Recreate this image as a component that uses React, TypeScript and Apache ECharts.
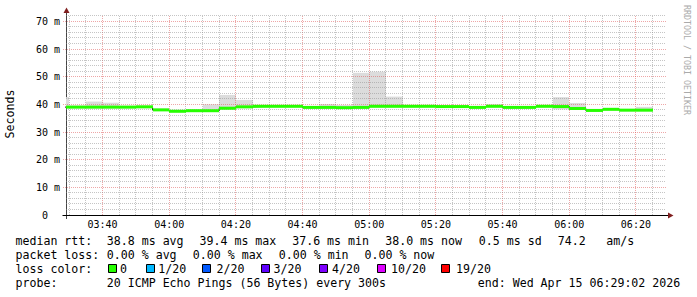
import React, { useEffect, useRef } from 'react';
import * as echarts from 'echarts';

// ---- data ----
const X_START = '03:29:02';
const X_END = '06:29:02';
const SLOT_MINUTES = 5;
const SLOT_START = ['03:25','03:30','03:35','03:40','03:45','03:50','03:55','04:00','04:05','04:10','04:15','04:20','04:25','04:30','04:35','04:40','04:45','04:50','04:55','05:00','05:05','05:10','05:15','05:20','05:25','05:30','05:35','05:40','05:45','05:50','05:55','06:00','06:05','06:10','06:15','06:20'];
const MEDIAN_MS = [39.0,39.0,39.0,39.0,39.0,39.1,38.0,37.5,37.7,37.7,38.6,39.1,39.3,39.3,39.3,38.9,38.9,38.8,38.9,39.3,39.3,39.3,39.3,39.2,39.2,38.9,39.3,38.9,38.9,39.3,39.2,38.5,37.8,38.2,37.9,37.9];
const SMOKE_MAX_MS = [42.6,39.6,41.0,40.6,39.5,39.6,38.5,38.0,38.2,40.0,43.4,41.6,39.7,39.7,39.7,39.4,40.1,39.8,51.4,51.8,42.8,39.7,39.7,39.6,39.6,39.4,40.0,39.4,39.4,39.7,42.6,40.5,38.3,38.7,38.3,39.1];
const SMOKE_MIN_MS = [38.9,38.6,38.5,38.5,38.6,38.6,37.6,37.1,37.3,37.3,38.1,38.6,38.9,38.9,38.9,38.5,38.5,38.3,38.5,38.9,38.9,38.9,38.9,38.8,38.8,38.5,38.9,38.5,38.5,38.9,38.2,38.0,37.3,37.8,37.5,37.5];

const X_LABELS = ['03:40','04:00','04:20','04:40','05:00','05:20','05:40','06:00','06:20'];
const Y_LABELS = [0, 10, 20, 30, 40, 50, 60, 70];
const Y_MAX = 72.3;
const Y_MINOR_STEP = 2;
const X_MINOR_STEP = 5;

const ROW_LABELS = ['median rtt:', 'packet loss:', 'loss color:', 'probe:'];
const RTT_STATS = ['38.8 ms avg', '39.4 ms max', '37.6 ms min', '38.0 ms now', '0.5 ms sd', '74.2', 'am/s'];
const LOSS_STATS = ['0.00 % avg', '0.00 % max', '0.00 % min', '0.00 % now'];
const LOSS_LABELS = ['0', '1/20', '2/20', '3/20', '4/20', '10/20', '19/20'];
const LOSS_COLORS = ['#26ff00', '#00b8ff', '#0059ff', '#5e00ff', '#7e00ff', '#dd00ff', '#ff0000'];
const PROBE_TEXT = '20 ICMP Echo Pings (56 Bytes) every 300s';
const END_TEXT = 'end: Wed Apr 15 06:29:02 2026';
const Y_TITLE = 'Seconds';
const WATERMARK = 'RRDTOOL / TOBI OETIKER';

// ---- layout ----
const W = 697, H = 297;
const G_LEFT = 66, G_TOP = 15, G_RIGHT = 31, G_BOTTOM = 82;
const MONO = "'DejaVu Sans Mono', monospace";
const LEG_FS = 11.6;
const ROW_Y = [241, 255, 269, 283];
const RTT_X = [106.8, 199.5, 292.2, 385.2, 478.8, 557.8, 606.2];
const LOSS_X = [106.8, 192.8, 278.8, 364.5];
const BOX_X = [108.5, 146.5, 202.5, 261.5, 319.5, 377.5, 441.5];
const BOX_TEXT_X = [120, 158.3, 216.6, 273.6, 332, 391, 456];
const PROBE_X = 106.8;
const END_X = 477.8;
const MINOR_COLOR = 'rgba(140,140,140,0.5)';
const MAJOR_COLOR = 'rgba(222,79,79,0.5)';

const toMin = (s: string) => {
  const p = s.split(':').map(Number);
  return p[0] * 60 + p[1] + (p[2] || 0) / 60;
};
const fmtHM = (m: number) => {
  const h = Math.floor(m / 60), mm = Math.round(m - h * 60);
  return String(h).padStart(2, '0') + ':' + String(mm).padStart(2, '0');
};
const crisp = (v: number) => Math.floor(v) + 0.5;

export default function App() {
  const ref = useRef<HTMLDivElement>(null);
  useEffect(() => {
    if (!ref.current) return;
    const chart = echarts.init(ref.current, undefined, { renderer: 'svg' });
    const xMin = toMin(X_START), xMax = toMin(X_END);
    const majorX = X_LABELS.map(toMin);

    const slots = SLOT_START.map((s, i) => {
      const st = toMin(s);
      return [st, st + SLOT_MINUTES, SMOKE_MAX_MS[i], SMOKE_MIN_MS[i], MEDIAN_MS[i]];
    });
    const stepLine: number[][] = SLOT_START.map((s, i) => [toMin(s), MEDIAN_MS[i]]);
    stepLine.push([toMin(SLOT_START[SLOT_START.length - 1]) + SLOT_MINUTES, MEDIAN_MS[MEDIAN_MS.length - 1]]);

    // grid line values: [value, isMajor]
    const vGrid: number[][] = [];
    for (let m = Math.ceil(xMin / X_MINOR_STEP) * X_MINOR_STEP; m < xMax; m += X_MINOR_STEP) {
      const major = majorX.some((v) => Math.abs(v - m) < 1e-6);
      vGrid.push([m, major ? 1 : 0]);
    }
    const hGrid: number[][] = [];
    for (let v = Y_MINOR_STEP; v < Y_MAX; v += Y_MINOR_STEP) {
      hGrid.push([v, Y_LABELS.includes(v) ? 1 : 0]);
    }

    const rectItem = (params: any, api: any, hiDim: number, loDim: number, fill: string, band: number) => {
      const st = api.value(0), en = api.value(1);
      const cs = params.coordSys;
      let y0: number, y1: number;
      const pa = api.coord([st, api.value(hiDim)]);
      const pb = api.coord([en, api.value(loDim)]);
      if (band > 0) {
        y0 = pa[1] - band / 2;
        y1 = pa[1] + band / 2;
      } else {
        y0 = pa[1];
        y1 = pb[1];
      }
      const left = Math.max(Math.round(pa[0]), cs.x);
      const right = Math.min(Math.round(pb[0]), cs.x + cs.width);
      if (right <= left) return null;
      return {
        type: 'rect',
        shape: { x: left, y: y0, width: right - left, height: y1 - y0 },
        style: { fill },
      };
    };

    const gridItem = (vertical: boolean) => (params: any, api: any) => {
      const cs = params.coordSys;
      const v = api.value(0);
      const major = api.value(1) === 1;
      const stroke = major ? MAJOR_COLOR : MINOR_COLOR;
      if (vertical) {
        const x = crisp(api.coord([v, 0])[0]);
        return {
          type: 'line',
          shape: { x1: x, y1: cs.y + cs.height, x2: x, y2: cs.y },
          style: { stroke, lineWidth: 1, lineDash: [1, 1] },
        };
      }
      const y = crisp(api.coord([xMin, v])[1]);
      return {
        type: 'line',
        shape: { x1: cs.x - (major ? 3 : 0), y1: y, x2: cs.x + cs.width, y2: y },
        style: { stroke, lineWidth: 1, lineDash: [1, 1] },
      };
    };

    const text = (t: string, x: number, y: number, extra: any = {}) => ({
      type: 'text',
      x,
      y,
      silent: true,
      style: {
        text: t,
        fontFamily: MONO,
        fontSize: LEG_FS,
        fill: '#000',
        align: 'left',
        verticalAlign: 'middle',
        textAlign: 'left',
        textVerticalAlign: 'middle',
        ...extra,
      },
    });

    const graphics: any[] = [];
    ROW_LABELS.forEach((t, i) => graphics.push(text(t, 15.5, ROW_Y[i])));
    RTT_STATS.forEach((t, i) => graphics.push(text(t, RTT_X[i], ROW_Y[0])));
    LOSS_STATS.forEach((t, i) => graphics.push(text(t, LOSS_X[i], ROW_Y[1])));
    LOSS_LABELS.forEach((t, i) => {
      graphics.push({
        type: 'rect',
        silent: true,
        shape: { x: BOX_X[i], y: ROW_Y[2] - 4.5, width: 8, height: 8 },
        style: { fill: LOSS_COLORS[i], stroke: '#000', lineWidth: 1 },
      });
      graphics.push(text(t, BOX_TEXT_X[i], ROW_Y[2]));
    });
    graphics.push(text(PROBE_TEXT, PROBE_X, ROW_Y[3]));
    graphics.push(text(END_TEXT, END_X, ROW_Y[3]));
    graphics.push({
      ...text(Y_TITLE, 10, 114, { align: 'center', textAlign: 'center' }),
      rotation: Math.PI / 2,
    });
    graphics.push({
      ...text(WATERMARK, 687.2, 60, { align: 'center', textAlign: 'center', fontSize: 8.3, fill: '#aaaaaa' }),
      rotation: -Math.PI / 2,
    });
    // axis decorations (arrows and short axis extensions)
    graphics.push({ type: 'line', silent: true, shape: { x1: 66.5, y1: 15, x2: 66.5, y2: 12 }, style: { stroke: '#444', lineWidth: 1 } });
    graphics.push({ type: 'line', silent: true, shape: { x1: 66.5, y1: 215, x2: 66.5, y2: 219 }, style: { stroke: '#444', lineWidth: 1 } });
    graphics.push({ type: 'line', silent: true, shape: { x1: 62.5, y1: 215.5, x2: 66.5, y2: 215.5 }, style: { stroke: '#000', lineWidth: 1 } });
    graphics.push({ type: 'line', silent: true, shape: { x1: 666, y1: 215.5, x2: 669, y2: 215.5 }, style: { stroke: '#000', lineWidth: 1 } });
    graphics.push({ type: 'polygon', silent: true, shape: { points: [[63.5, 13], [69.5, 13], [66.5, 7.5]] }, style: { fill: '#801f1f' } });
    graphics.push({ type: 'polygon', silent: true, shape: { points: [[668, 212.5], [668, 218.5], [673.5, 215.5]] }, style: { fill: '#801f1f' } });

    chart.setOption({
      animation: false,
      backgroundColor: '#ffffff',
      grid: { left: G_LEFT, top: G_TOP, right: G_RIGHT, bottom: G_BOTTOM, containLabel: false },
      xAxis: {
        type: 'value',
        min: xMin,
        max: xMax,
        axisLine: { show: true, lineStyle: { color: '#000', width: 1 } },
        axisTick: { show: false },
        splitLine: { show: false },
        axisLabel: {
          customValues: majorX,
          formatter: (v: number) => fmtHM(v),
          fontFamily: MONO,
          fontSize: 10,
          color: '#000',
          margin: 4.5,
        },
      },
      yAxis: {
        type: 'value',
        min: 0,
        max: Y_MAX,
        axisLine: { show: true, lineStyle: { color: '#444', width: 1 } },
        axisTick: { show: false },
        splitLine: { show: false },
        axisLabel: {
          customValues: Y_LABELS,
          formatter: (v: number) => (v === 0 ? '0\u00a0\u00a0' : v + ' m'),
          fontFamily: MONO,
          fontSize: 10,
          color: '#000',
          margin: 6,
        },
      },
      graphic: graphics,
      series: [
        {
          type: 'custom',
          name: 'smoke',
          z: 2,
          silent: true,
          encode: { x: [0, 1], y: [2, 3] },
          data: slots,
          renderItem: (params: any, api: any) => rectItem(params, api, 2, 3, '#dcdcdc', 0),
        },
        {
          type: 'custom',
          name: 'vgrid',
          z: 4,
          silent: true,
          encode: { x: 0 },
          data: vGrid,
          renderItem: gridItem(true),
        },
        {
          type: 'custom',
          name: 'hgrid',
          z: 4,
          silent: true,
          encode: { y: 0 },
          data: hGrid,
          renderItem: gridItem(false),
        },
        {
          type: 'line',
          name: 'median edge',
          z: 9,
          silent: true,
          step: 'end',
          symbol: 'none',
          data: stepLine,
          lineStyle: { color: '#1a1a1a', width: 1 },
        },
        {
          type: 'custom',
          name: 'median',
          z: 10,
          silent: true,
          encode: { x: [0, 1], y: [4] },
          data: slots,
          renderItem: (params: any, api: any) => rectItem(params, api, 4, 4, '#26ff00', 3),
        },
      ],
    });
    return () => chart.dispose();
  }, []);
  return <div ref={ref} style={{ position: 'absolute', left: 0, top: 0, width: W, height: H }} />;
}
